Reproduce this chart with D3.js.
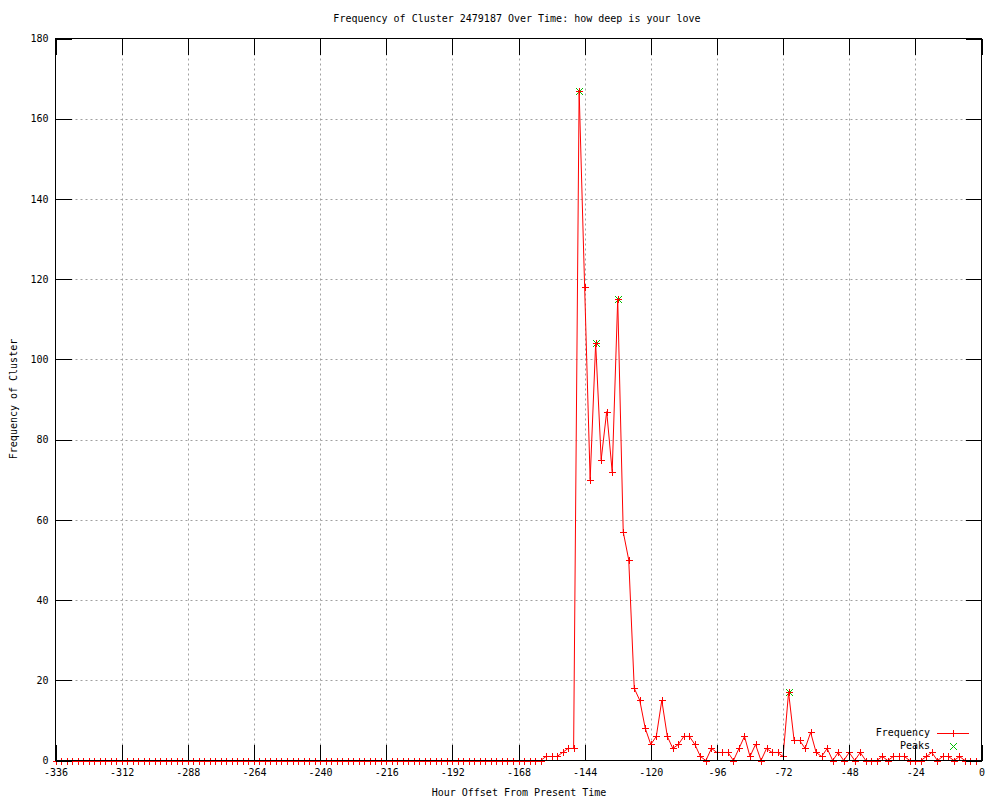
<!DOCTYPE html>
<html>
<head>
<meta charset="utf-8">
<script src="https://cdn.jsdelivr.net/npm/d3@7"></script>
<style>
  html, body { margin: 0; padding: 0; background: #fff; }
  svg text { font-family: "DejaVu Sans Mono", "Liberation Mono", monospace; font-size: 10px; fill: #000; }
</style>
</head>
<body>
<svg id="chart" width="1000" height="800"></svg>
<script>
// ---- data ----
const hours = d3.range(-336, 0, 2); // -336 ... -2, every 2 hours
const frequency = [
  // -336 .. -162 (88 points of zero)
  0,0,0,0,0,0,0,0,0,0, 0,0,0,0,0,0,0,0,0,0,
  0,0,0,0,0,0,0,0,0,0, 0,0,0,0,0,0,0,0,0,0,
  0,0,0,0,0,0,0,0,0,0, 0,0,0,0,0,0,0,0,0,0,
  0,0,0,0,0,0,0,0,0,0, 0,0,0,0,0,0,0,0,0,0,
  0,0,0,0,0,0,0,0,
  // -160 .. -2
  0, 1, 1, 1, 2, 3, 3, 167, 118, 70,
  104, 75, 87, 72, 115, 57, 50, 18, 15, 8,
  4, 6, 15, 6, 3, 4, 6, 6, 4, 1,
  0, 3, 2, 2, 2, 0, 3, 6, 1, 4,
  0, 3, 2, 2, 1, 17, 5, 5, 3, 7,
  2, 1, 3, 0, 2, 0, 2, 0, 2, 0,
  0, 0, 1, 0, 1, 1, 1, 0, 0, 0,
  1, 2, 0, 1, 1, 0, 1, 0, 0, 0
];
const peakHours = [-146, -140, -132, -70];
const peakValues = [167, 104, 115, 17];
const xTicks = [-336, -312, -288, -264, -240, -216, -192, -168, -144, -120, -96, -72, -48, -24, 0];
const yTicks = [0, 20, 40, 60, 80, 100, 120, 140, 160, 180];
const titleText = "Frequency of Cluster 2479187 Over Time: how deep is your love";
const xLabel = "Hour Offset From Present Time";
const yLabel = "Frequency of Cluster";
const seriesNames = ["Frequency", "Peaks"];

const freqData = hours.map((h, i) => ({ h, v: frequency[i] }));
const peakData = peakHours.map((h, i) => ({ h, v: peakValues[i] }));

// ---- layout ----
const L = 55.5, R = 981.5, T = 38.5, B = 760.5;
const svg = d3.select("#chart");
const x = d3.scaleLinear().domain([-336, 0]).range([L, R]);
const y = d3.scaleLinear().domain([0, 180]).range([B, T]);
const tickLen = 16;
const RED = "#ff0000", GREEN = "#00c000";

// grid
const grid = svg.append("g").style("stroke", "#a0a0a0").style("stroke-dasharray", "2,3").style("stroke-width", 1);
grid.selectAll("line.gx").data(xTicks.filter(t => t > -336 && t < 0)).join("line").attr("class", "gx")
  .attr("x1", d => Math.round(x(d)) + 0.5).attr("x2", d => Math.round(x(d)) + 0.5)
  .attr("y1", T).attr("y2", B);
grid.selectAll("line.gy").data(yTicks.filter(t => t > 0 && t < 180)).join("line").attr("class", "gy")
  .attr("y1", d => Math.round(y(d)) + 0.5).attr("y2", d => Math.round(y(d)) + 0.5)
  .attr("x1", L).attr("x2", R);

const s = 3.5;
const plusPath = (cx, cy) => `M${cx - s},${cy}H${cx + s}M${cx},${cy - s}V${cy + s}`;
const xPath = (cx, cy) => `M${cx - s},${cy - s}L${cx + s},${cy + s}M${cx - s},${cy + s}L${cx + s},${cy - s}`;

// peaks (green x) under the frequency series
svg.append("g").selectAll("path").data(peakData).join("path")
  .style("stroke", GREEN).style("stroke-width", 1).style("fill", "none")
  .attr("d", d => xPath(Math.round(x(d.h)) + 0.5, Math.round(y(d.v)) + 0.5));

// frequency line
svg.append("path").datum(freqData)
  .style("fill", "none").style("stroke", RED).style("stroke-width", 1)
  .attr("d", d3.line().x(d => x(d.h)).y(d => y(d.v)));

svg.append("g").selectAll("path").data(freqData).join("path")
  .style("stroke", RED).style("stroke-width", 1).style("fill", "none")
  .attr("d", d => plusPath(Math.round(x(d.h)) + 0.5, Math.round(y(d.v)) + 0.5));

// axes (ticks inward, mirrored)
const fmt = d => String(d);
const ax = svg.append("g").attr("shape-rendering", "crispEdges");
const axBottom = ax.append("g").attr("transform", `translate(0,${B})`)
  .call(d3.axisBottom(x).tickValues(xTicks).tickSizeInner(-tickLen).tickSizeOuter(0).tickPadding(6).tickFormat(fmt));
ax.append("g").attr("transform", `translate(0,${T})`)
  .call(d3.axisTop(x).tickValues(xTicks).tickSizeInner(-tickLen).tickSizeOuter(0).tickFormat(""));
ax.append("g").attr("transform", `translate(${L},0)`)
  .call(d3.axisLeft(y).tickValues(yTicks).tickSizeInner(-tickLen).tickSizeOuter(0).tickPadding(7).tickFormat(fmt));
ax.append("g").attr("transform", `translate(${R},0)`)
  .call(d3.axisRight(y).tickValues(yTicks).tickSizeInner(-tickLen).tickSizeOuter(0).tickFormat(""));
ax.selectAll(".domain").remove();
ax.selectAll(".tick line").attr("stroke", "#000");
ax.selectAll("text").attr("font-family", null).attr("font-size", null).attr("fill", "#000");
axBottom.selectAll("text").attr("dy", "0.9em");

// border
svg.append("rect").attr("x", L).attr("y", T).attr("width", R - L).attr("height", B - T)
  .style("fill", "none").style("stroke", "#000").style("stroke-width", 1).attr("shape-rendering", "crispEdges");

// titles
svg.append("text").attr("x", 517).attr("y", 19).attr("text-anchor", "middle").attr("dominant-baseline", "middle").text(titleText);
svg.append("text").attr("x", 519).attr("y", 793).attr("text-anchor", "middle").attr("dominant-baseline", "middle").text(xLabel);
svg.append("text").attr("transform", "translate(14,399) rotate(-90)").attr("text-anchor", "middle").attr("dominant-baseline", "middle").text(yLabel);

// legend
const leg = svg.append("g");
leg.append("text").attr("x", 930).attr("y", 733).attr("text-anchor", "end").attr("dominant-baseline", "middle").text(seriesNames[0]);
leg.append("text").attr("x", 930).attr("y", 746).attr("text-anchor", "end").attr("dominant-baseline", "middle").text(seriesNames[1]);
leg.append("path").style("stroke", RED).style("stroke-width", 1).style("fill", "none")
  .attr("d", "M937,733.5H969");
leg.append("path").style("stroke", RED).style("stroke-width", 1).style("fill", "none").attr("d", plusPath(953.5, 733.5));
leg.append("path").style("stroke", GREEN).style("stroke-width", 1).style("fill", "none").attr("d", xPath(953.5, 746.5));
</script>
</body>
</html>
